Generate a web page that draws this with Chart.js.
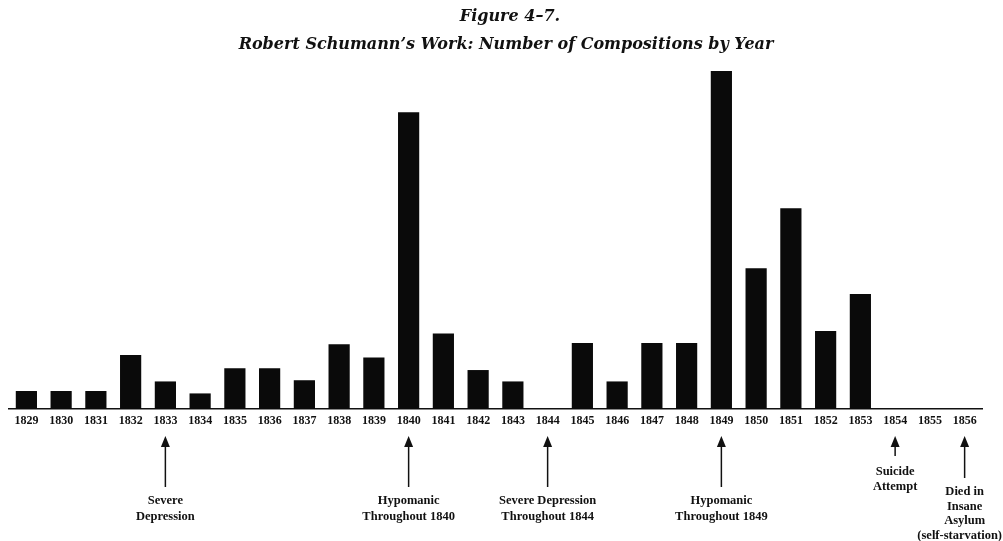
<!DOCTYPE html>
<html>
<head>
<meta charset="utf-8">
<title>Robert Schumann's Work: Number of Compositions by Year</title>
<script src="https://cdn.jsdelivr.net/npm/chart.js@4/dist/chart.umd.min.js"></script>
<style>
  html, body { margin: 0; padding: 0; background: #fff; }
  #wrap { width: 1003px; height: 541px; position: relative; }
</style>
</head>
<body>
<div id="wrap"><canvas id="chart"></canvas></div>
<script>
// ── Data (no y axis shown) ────────────────────────────
const years = ['1829', '1830', '1831', '1832', '1833', '1834', '1835', '1836', '1837', '1838',
               '1839', '1840', '1841', '1842', '1843', '1844', '1845', '1846', '1847', '1848',
               '1849', '1850', '1851', '1852', '1853', '1854', '1855', '1856'];
const compositions = [1.5, 1.5, 1.5, 4.5, 2.3, 1.3, 3.4, 3.4, 2.4, 5.4,
                      4.3, 24.75, 6.3, 3.25, 2.3, 0, 5.5, 2.3, 5.5, 5.5,
                      28.2, 11.75, 16.75, 6.5, 9.6, 0, 0, 0];

const titleLines = ['Figure 4–7.', 'Robert Schumann’s Work: Number of Compositions by Year'];

const noteYears = ['1833', '1840', '1844', '1849', '1854', '1856'];
const noteTexts = [
  ['Severe', 'Depression'],
  ['Hypomanic', 'Throughout 1840'],
  ['Severe Depression', 'Throughout 1844'],
  ['Hypomanic', 'Throughout 1849'],
  ['Suicide', 'Attempt'],
  ['Died in', 'Insane', 'Asylum', '(self-starvation)'],
];

// ── Layout of the notes under the axis ────────────────
const NOTE_STYLE = {
  '1854': { arrowEnd: 456, textY: 472, lineH: 15 },
  '1856': { arrowEnd: 478, textY: 492, lineH: 14.5 },
  default: { arrowEnd: 487, textY: 501, lineH: 16 },
};
const INK = '#111';

const notesPlugin = {
  id: 'notes',
  afterDraw(chart) {
    const { ctx, scales: { x } } = chart;
    ctx.save();
    ctx.fillStyle = INK;
    ctx.strokeStyle = INK;
    ctx.textAlign = 'center';
    ctx.textBaseline = 'middle';

    // title (two lines, centred a little right of the canvas middle like the scan)
    ctx.font = 'bold italic 16px "DejaVu Serif"';
    ctx.fillText(titleLines[0], 510, 17);
    ctx.fillText(titleLines[1], 506, 45);

    // arrows + captions
    ctx.font = 'bold 12.5px "Liberation Serif"';
    noteYears.forEach((yr, i) => {
      const s = NOTE_STYLE[yr] || NOTE_STYLE.default;
      const cx = x.getPixelForValue(years.indexOf(yr));

      ctx.lineWidth = 1.5;
      ctx.beginPath();
      ctx.moveTo(cx, 444);
      ctx.lineTo(cx, s.arrowEnd);
      ctx.stroke();
      ctx.beginPath();
      ctx.moveTo(cx, 436);
      ctx.lineTo(cx - 4.5, 447);
      ctx.lineTo(cx + 4.5, 447);
      ctx.closePath();
      ctx.fill();

      noteTexts[i].forEach((line, j) => {
        const w = ctx.measureText(line).width;
        const tx = Math.min(cx, chart.width - w / 2 - 1);
        ctx.fillText(line, tx, s.textY + j * s.lineH);
      });
    });
    ctx.restore();
  }
};

new Chart(document.getElementById('chart'), {
  type: 'bar',
  data: {
    labels: years,
    datasets: [{
      data: compositions,
      backgroundColor: '#0a0a0a',
      barPercentage: 0.61,
      categoryPercentage: 1,
    }],
  },
  options: {
    responsive: true,
    maintainAspectRatio: false,
    animation: false,
    layout: { padding: { top: 71, left: 9, right: 21, bottom: 114 } },
    plugins: {
      legend: { display: false },
      title: { display: false },
      tooltip: { enabled: false },
    },
    scales: {
      x: {
        grid: { display: false, drawTicks: false },
        border: { display: true, color: INK, width: 1.5 },
        ticks: {
          color: INK,
          font: { family: 'Liberation Serif', size: 12, weight: 'bold' },
          padding: 5,
          maxRotation: 0,
          autoSkip: false,
        },
        afterFit(scale) { scale.height = 18; },
      },
      y: { display: false, min: 0, max: 28.2 },
    },
  },
  plugins: [notesPlugin],
});
</script>
</body>
</html>
